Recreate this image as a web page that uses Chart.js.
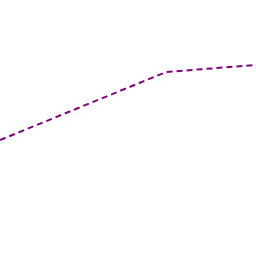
<!DOCTYPE html>
<html>
<head>
<meta charset="utf-8">
<script src="https://cdn.jsdelivr.net/npm/chart.js@4/dist/chart.umd.min.js"></script>
<style>
  html, body { margin: 0; padding: 0; background: #fff; }
  #wrap { width: 256px; height: 256px; }
</style>
</head>
<body>
<div id="wrap"><canvas id="chart" width="256" height="256"></canvas></div>
<script>
// Data
const xValues = [0, 6.5, 10];
const yValues = [4.53, 7.19, 7.46];

const points = xValues.map((x, i) => ({ x: x, y: yValues[i] }));

const ctx = document.getElementById('chart').getContext('2d');
new Chart(ctx, {
  type: 'line',
  data: {
    datasets: [{
      data: points,
      borderColor: '#800080',
      borderWidth: 2,
      borderDash: [6, 4],
      pointRadius: 0,
      fill: false,
      tension: 0,
      clip: false
    }]
  },
  options: {
    responsive: false,
    animation: false,
    layout: { padding: 0 },
    plugins: { legend: { display: false }, tooltip: { enabled: false } },
    scales: {
      x: { type: 'linear', min: 0, max: 10, display: false },
      y: { min: 0, max: 10, display: false }
    }
  }
});
</script>
</body>
</html>
